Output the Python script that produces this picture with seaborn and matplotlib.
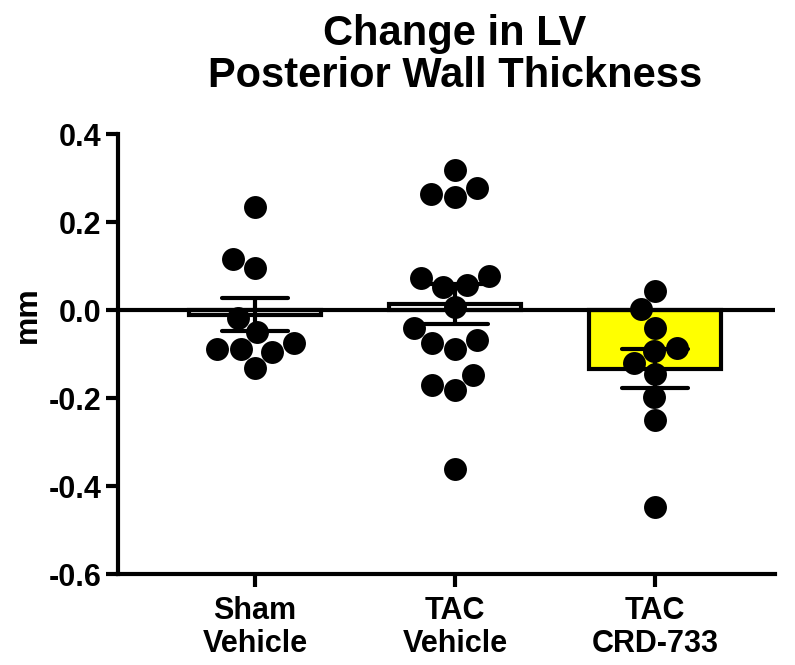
import pandas as pd
import numpy as np
import seaborn as sns
import matplotlib.pyplot as plt
from matplotlib.ticker import FormatStrFormatter

## ==============================
## 데이터
groups = ['Sham\nVehicle', 'TAC\nVehicle', 'TAC\nCRD-733']
bar_colors = ['white', 'white', '#FFFF00']

sham_vehicle = [0.234, 0.116, 0.095, -0.018, -0.089, -0.075, -0.132, -0.050, -0.095, -0.089]
tac_vehicle = [0.318, 0.257, 0.264, 0.277, 0.077, 0.057, 0.073, 0.052, 0.007,
               -0.041, -0.068, -0.089, -0.075, -0.170, -0.182, -0.148, -0.361]
tac_crd733 = [0.044, 0.002, -0.041, -0.086, -0.093, -0.120, -0.145, -0.198, -0.250, -0.448]

y_ticks = [-0.6, -0.4, -0.2, 0.0, 0.2, 0.4]

df = pd.DataFrame({
    'group': [groups[0]] * len(sham_vehicle) + [groups[1]] * len(tac_vehicle) + [groups[2]] * len(tac_crd733),
    'value': sham_vehicle + tac_vehicle + tac_crd733,
})

## ==============================
## 스타일
sns.set_style('ticks')
plt.rcParams['font.family'] = ['Liberation Sans', 'DejaVu Sans']
plt.rcParams['font.weight'] = 'bold'
plt.rcParams['axes.unicode_minus'] = False
for key in ['text.color', 'axes.labelcolor', 'xtick.color', 'ytick.color', 'axes.edgecolor']:
    plt.rcParams[key] = 'black'

fig = plt.figure(figsize=(7.95, 6.65), dpi=100)
ax = fig.add_axes([118 / 795, 1 - 574 / 665, (775 - 118) / 795, 440 / 665])

# 평균 막대 + SEM
sns.barplot(data=df, x='group', y='value', hue='group', palette=bar_colors, order=groups,
            errorbar='se', capsize=0.33, width=0.66, edgecolor='black', linewidth=3,
            saturation=1, err_kws={'color': 'black', 'linewidth': 3}, legend=False, ax=ax, zorder=2)

ax.axhline(0, color='black', lw=3, zorder=3)

# 개별 점
sns.swarmplot(data=df, x='group', y='value', order=groups, color='black', size=16.5, ax=ax, zorder=4)

ax.set_xlim(-0.685, 2.6)
ax.set_ylim(-0.6, 0.4)
ax.set_yticks(y_ticks)
ax.yaxis.set_major_formatter(FormatStrFormatter('%.1f'))

sns.despine(ax=ax)
for side in ['left', 'bottom']:
    ax.spines[side].set_linewidth(3)
ax.tick_params(axis='both', width=3, length=9, labelsize=22)
ax.tick_params(axis='y', pad=3)
ax.tick_params(axis='x', pad=7)
for lbl in ax.get_xticklabels() + ax.get_yticklabels():
    lbl.set_fontweight('bold')
    lbl.set_linespacing(1.1)

ax.set_xlabel('')
ax.set_ylabel('mm', fontsize=23, fontweight='bold')
ax.yaxis.set_label_coords(-0.115, 0.59)

ax.set_title('Change in LV\nPosterior Wall Thickness', fontsize=30, fontweight='bold',
             x=0.513, pad=34, linespacing=1.05)

plt.savefig('out.png', dpi=100)
